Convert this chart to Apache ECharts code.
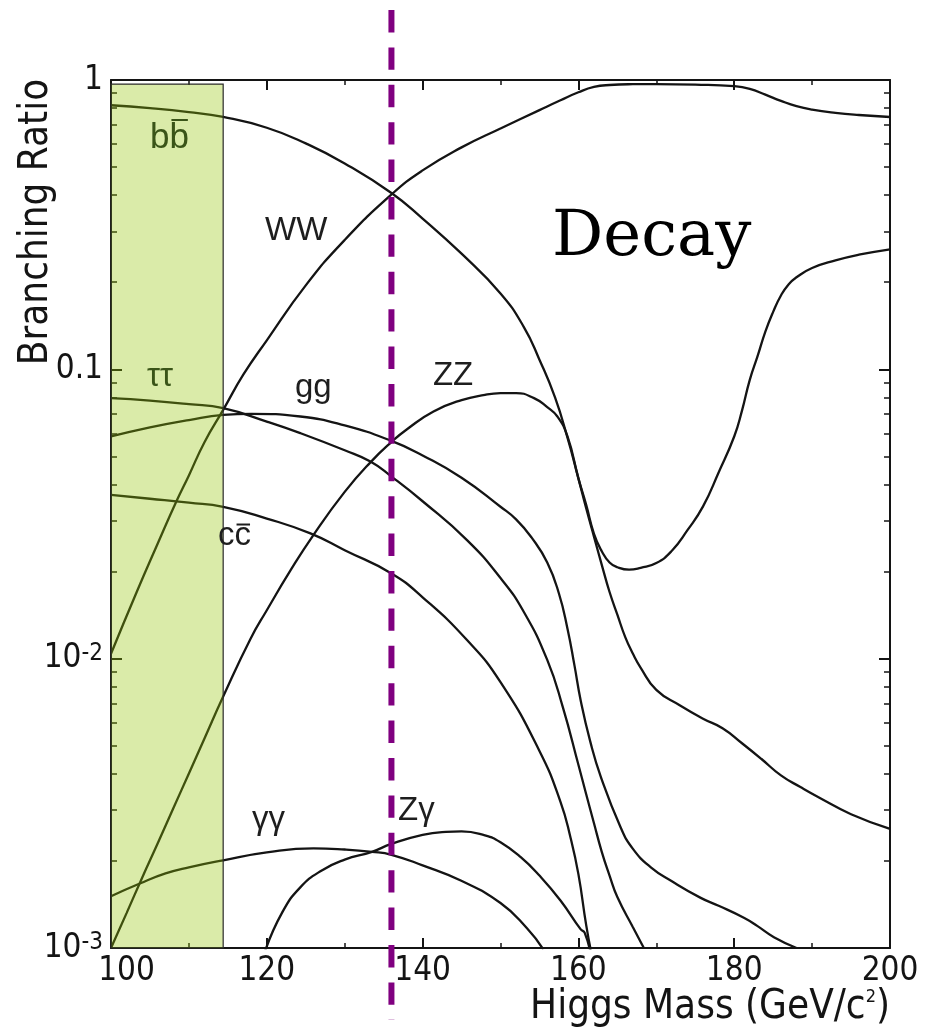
<!DOCTYPE html>
<html><head><meta charset="utf-8">
<script src="https://cdn.jsdelivr.net/npm/echarts@6/dist/echarts.min.js"></script>
<style>html,body{margin:0;padding:0;background:#fff}#c{width:940px;height:1034px}</style>
</head><body><div id="c"></div>
<script>
// ---------- data ----------
const bbMass = [100,105,110,114.4,120,125,130,136,140,145,150,153,155,157,158.6,160,161,162,163,164,165,166,167,168,170,173,176,178.5,181,183.5,186,188.5,191,195,200];
const bbBR   = [0.818,0.80,0.775,0.745,0.684,0.604,0.515,0.407,0.332,0.251,0.183,0.14,0.108,0.08,0.058,0.042,0.0331,0.0264,0.0211,0.017,0.0142,0.0119,0.0104,0.0093,0.0078,0.0069,0.0062,0.00575,0.0051,0.0045,0.00395,0.0036,0.0033,0.0029,0.00258];

const wwMass = [100,103.3,106,108.4,110,112,114.4,117,120,125,130,136,140,145,150,155,157.7,160,162,164,167,170,175,180,182,184,186,188,190,193,196,200];
const wwBR   = [0.0104,0.017,0.025,0.035,0.043,0.056,0.0724,0.096,0.126,0.195,0.28,0.402,0.487,0.585,0.68,0.787,0.851,0.907,0.946,0.961,0.967,0.968,0.964,0.952,0.932,0.89,0.847,0.812,0.79,0.77,0.757,0.745];

const zzMass = [100,102,104,106,108,110,112,114.4,117.9,120,123,126,130,133.3,136.1,138,141.4,145,148,150,152,154.3,156,157.3,158.6,160,161,162,163,164,165,166.5,168,170,172,174,176,178,180,181,182,183,184,185,186,187,188,190,193,196,200];
const zzBR   = [0.001,0.00132,0.00175,0.0023,0.00304,0.00401,0.0053,0.0074,0.0117,0.0147,0.0201,0.0268,0.0377,0.0477,0.0564,0.0621,0.0715,0.0783,0.0816,0.0827,0.0828,0.0795,0.074,0.0687,0.0586,0.042,0.034,0.027,0.0235,0.0215,0.0207,0.0203,0.0206,0.0214,0.0236,0.0278,0.0336,0.044,0.0586,0.072,0.092,0.111,0.135,0.158,0.18,0.197,0.208,0.224,0.238,0.249,0.26];

const tautauMass = [100,105,110,114.4,120,124.3,130,133.3,136,140,145.7,150,153,156,158,160,161,162,163,164,165,167,168.4];
const tautauBR   = [0.0795,0.078,0.0758,0.0734,0.066,0.0602,0.0525,0.048,0.0426,0.035,0.0257,0.019,0.0145,0.0099,0.0068,0.0043,0.0034,0.0027,0.00215,0.00178,0.0015,0.00118,0.001];

const ggMass = [100,105,110,114.4,118,124.3,130,136,140,145,150,152,154,156,157.5,158.6,159.5,160.3,161.5,162.9,165.4,167,169.3,172,175.7,178,181.3,183,185.1,188];
const ggBR   = [0.0586,0.063,0.0668,0.0696,0.0702,0.0687,0.064,0.0566,0.0504,0.0422,0.0335,0.0303,0.0262,0.0215,0.0168,0.0127,0.00946,0.00716,0.0052,0.00389,0.00262,0.0022,0.0019,0.0017,0.00149,0.0014,0.00127,0.00119,0.00109,0.001];

const ccMass = [100,105,110,114.4,120,125.6,130,136,140,145.7,150,155,157.7,159,160,161,161.7];
const ccBR   = [0.0368,0.0357,0.0346,0.0335,0.0305,0.0271,0.0237,0.0197,0.0163,0.0116,0.0083,0.0048,0.0032,0.0024,0.0018,0.0012,0.00095];

const gamgamMass = [100,103.7,107,110,114.4,120,126,130,133.5,136,140,144.9,150,153.4,155.5];
const gamgamBR   = [0.00151,0.00167,0.00181,0.0019,0.00201,0.00214,0.00221,0.00219,0.00215,0.0021,0.00193,0.00171,0.00143,0.00117,0.00099];

const zgamMass = [119.8,122,124.3,127,130,133.5,136,140,143,145,148,150,152.6,155,157.7,160.3,160.8,161.6];
const zgamBR   = [0.00098,0.00133,0.00162,0.00185,0.00202,0.00215,0.00229,0.00246,0.00252,0.00253,0.00245,0.00232,0.00206,0.00178,0.00146,0.00116,0.00113,0.00095];

const lepExcludedMass = [100, 114.4];      // shaded band
const lepBandTopBR = 0.968;
const higgsMassLine = 136;                 // dashed purple line

const xTickValues = [100,120,140,160,180,200];
const yTickValues = [0.001, 0.01, 0.1, 1];
const yTickLabels = ['10^-3', '10^-2', '0.1', '1'];

// curve labels (text, anchor in data coords: left edge / baseline)
const curveLabels = [
  {text:'bb', over:true,  mass:105.0,  br:0.5725, dark:true},
  {text:'ττ', over:false, mass:104.62, br:0.0859, dark:true},
  {text:'WW', over:false, mass:119.77, br:0.275},
  {text:'gg', over:false, mass:123.62, br:0.0787},
  {text:'ZZ', over:false, mass:141.33, br:0.0866},
  {text:'cc', over:true,  mass:113.74, br:0.0242},
  {text:'γγ', over:false, mass:118.1,  br:0.00254},
  {text:'Zγ', over:false, mass:136.84, br:0.00271}
];
const titleLabel = {text:'Decay', mass:156.61, br:0.2383};

// ---------- chart ----------
const pair = (xs, ys) => xs.map((x, i) => [x, ys[i]]);
const curves = [
  ['bb', bbMass, bbBR], ['WW', wwMass, wwBR], ['ZZ', zzMass, zzBR],
  ['tautau', tautauMass, tautauBR], ['gg', ggMass, ggBR], ['cc', ccMass, ccBR],
  ['gamgam', gamgamMass, gamgamBR], ['Zgam', zgamMass, zgamBR]
];
const INK = '#141414';
const COND = "'DejaVu Sans Condensed', 'Liberation Sans Narrow', sans-serif";
const SANS = "'Liberation Sans', Arial, sans-serif";

const minorVals = [];
for (let d = 0.001; d < 1; d *= 10) for (let k = 2; k <= 9; k++) minorVals.push(+(k * d).toPrecision(3));

const series = curves.map(([name, xs, ys]) => ({
  name, type: 'line', data: pair(xs, ys), showSymbol: false, smooth: 0.5,
  clip: true, silent: true, z: 2,
  lineStyle: {color: INK, width: 2.3}
}));
series.push({
  name: 'band', type: 'line', data: [], silent: true, z: 5,
  markArea: {
    silent: true, z: 5,
    itemStyle: {color: 'rgba(148,196,3,0.34)', borderColor: '#2a2a2a', borderWidth: 1.2},
    data: [[{xAxis: lepExcludedMass[0], yAxis: 0.001}, {xAxis: lepExcludedMass[1], yAxis: lepBandTopBR}]]
  }
});

function yFmt(v) {
  const e = Math.round(Math.log10(v));
  const i = yTickValues.findIndex(t => Math.round(Math.log10(t)) === e);
  const s = yTickLabels[i];
  if (s.indexOf('^') >= 0) { const p = s.split('^'); return '{b|' + p[0] + '}{s|' + p[1] + '}'; }
  return '{b|' + s + '}';
}
const axisLine = {show: true, lineStyle: {color: INK, width: 2}};
const baseX = {
  type: 'value', min: 100, max: 200, interval: 20,
  axisLine, splitLine: {show: false},
  axisTick: {inside: true, length: 10, lineStyle: {color: INK, width: 2}},
  minorTick: {show: true, splitNumber: 2, length: 5, lineStyle: {color: INK, width: 1.5}},
  minorSplitLine: {show: false}
};
const baseY = {
  type: 'log', logBase: 10, min: 0.001, max: 1,
  axisLine, splitLine: {show: false}, minorSplitLine: {show: false}
};
const TICK_FS = 33;

const chart = echarts.init(document.getElementById('c'), null, {renderer: 'canvas'});
chart.setOption({
  animation: false,
  backgroundColor: '#fff',
  grid: {left: 111, right: 50, top: 80, bottom: 86},
  xAxis: [
    Object.assign({}, baseX, {position: 'bottom',
      axisLabel: {
        margin: 7, color: INK, fontFamily: COND, fontSize: TICK_FS,
        customValues: xTickValues,
        formatter: v => (v === 100 ? '{f|' + v + '}' : '{n|' + v + '}'),
        rich: {f: {fontFamily: COND, fontSize: TICK_FS, color: INK, padding: [0, 0, 0, 31]},
               n: {fontFamily: COND, fontSize: TICK_FS, color: INK}}
      }}),
    Object.assign({}, baseX, {position: 'top', axisLabel: {show: false}})
  ],
  yAxis: [
    Object.assign({}, baseY, {position: 'left',
      axisTick: {inside: true, length: 11, lineStyle: {color: INK, width: 2}},
      axisLabel: {margin: 8, formatter: yFmt, showMinLabel: true, showMaxLabel: true,
        rich: {b: {fontFamily: COND, fontSize: TICK_FS, color: INK},
               s: {fontFamily: COND, fontSize: 24, color: INK, verticalAlign: 'top', padding: [0, 0, 10, 0]}}}}),
    Object.assign({}, baseY, {position: 'left', axisLine: {show: false},
      axisTick: {inside: true, length: 6, customValues: minorVals, lineStyle: {color: INK, width: 1.5}},
      axisLabel: {show: false}}),
    Object.assign({}, baseY, {position: 'right',
      axisTick: {inside: true, length: 11, lineStyle: {color: INK, width: 2}},
      axisLabel: {show: false}}),
    Object.assign({}, baseY, {position: 'right', axisLine: {show: false},
      axisTick: {inside: true, length: 6, customValues: minorVals, lineStyle: {color: INK, width: 1.5}},
      axisLabel: {show: false}})
  ],
  series
});

// ---------- annotations placed through the axis scales ----------
const toPx = (m, b) => chart.convertToPixel({xAxisIndex: 0, yAxisIndex: 0}, [m, b]);
const graphics = [];
const LABEL_FS = 33;
curveLabels.forEach(l => {
  const [px, py] = toPx(l.mass, l.br);
  const fs = l.text === 'bb' ? 35 : LABEL_FS;
  const col = l.dark ? '#3a5418' : '#1e1e1e';
  graphics.push({type: 'text', x: px, y: py - 0.347 * fs, z: 20, silent: true,
    style: {text: l.text, fontFamily: SANS, fontSize: fs, fill: col, align: 'left', verticalAlign: 'middle'}});
  if (l.over) {
    const w = (l.text[0] === 'b' ? 0.556 : 0.5) * fs;
    const h = (l.text[0] === 'b' ? 0.86 : 0.7) * fs;
    graphics.push({type: 'line', z: 20, silent: true,
      shape: {x1: px + w + 2, y1: py - h, x2: px + 2 * w - 1, y2: py - h},
      style: {stroke: col, lineWidth: 2}});
  }
});
{
  const [px, py] = toPx(titleLabel.mass, titleLabel.br);
  graphics.push({type: 'text', x: px, y: py - 0.347 * 64, z: 20, silent: true,
    style: {text: titleLabel.text, fontFamily: "'DejaVu Serif', serif", fontSize: 64, fill: '#000', align: 'left', verticalAlign: 'middle'}});
}
// axis titles
graphics.push({type: 'text', x: 37, y: 222, rotation: Math.PI / 2, z: 20, silent: true,
  style: {text: 'Branching Ratio', fontFamily: COND, fontSize: 40, fill: INK, align: 'center', verticalAlign: 'middle'}});
graphics.push({type: 'text', x: 890, y: 1008, z: 20, silent: true,
  style: {text: '{t|Higgs Mass (GeV/c}{s|2}{t|)}', align: 'right', verticalAlign: 'middle',
    rich: {t: {fontFamily: COND, fontSize: 40, fill: INK, color: INK},
           s: {fontFamily: COND, fontSize: 18, fill: INK, color: INK, verticalAlign: 'top'}}}});
// dashed vertical line at the chosen Higgs mass
{
  const [lx] = toPx(higgsMassLine, 0.01);
  graphics.push({type: 'line', z: 30, silent: true,
    shape: {x1: lx, y1: 10, x2: lx, y2: 1020},
    style: {stroke: '#800080', lineWidth: 6, lineDash: [22.4, 15]}});
}
chart.setOption({graphic: graphics});
</script>
</body></html>
